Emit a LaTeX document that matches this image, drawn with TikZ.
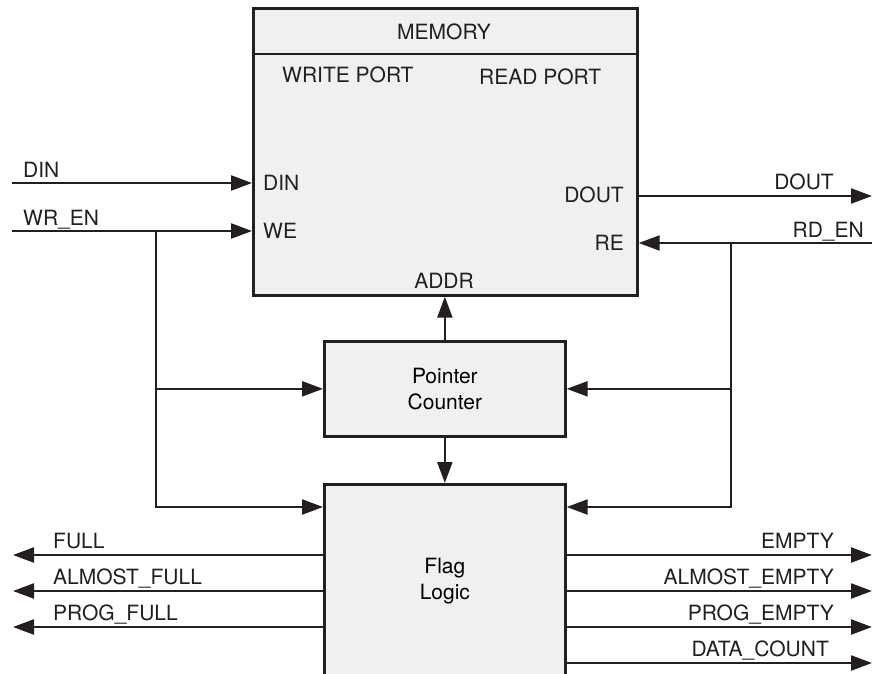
\documentclass[tikz,border=0pt]{standalone}
\usepackage{fontspec}
\setmainfont{TeX Gyre Heros}
\usepackage{xcolor}
\definecolor{pale-gray}{HTML}{F0F0F0}
\definecolor{ink}{HTML}{231F20}
\usepackage{tikz}
\usetikzlibrary{arrows.meta}
\tikzset{block/.style = {draw=ink, line width=2.7pt, fill=pale-gray, align=center, text centered, anchor=north west, inner sep=0pt}}
\tikzset{lbl/.style = {inner sep=0pt, text=ink}}
\tikzset{arr/.style = {draw=ink, line width=2.3pt, -{Triangle[length=21pt, width=15pt]}}}

\begin{document}
\begin{tikzpicture}[x=1pt, y=-1pt,
  font=\fontsize{21}{26}\selectfont
]
\useasboundingbox (0,0) rectangle (872,674);

\node[block, minimum width=384pt, minimum height=287pt] (mem) at (252,7) {};
\node[block, minimum width=241pt, minimum height=95pt] (ptr) at (323,340) {Pointer\\Counter};
% flag box runs off the bottom edge
\node[block, minimum width=241pt, minimum height=194pt] (flag) at (323,483) {Flag\\Logic};
\draw[ink, line width=2.3pt] ([yshift=-47pt]mem.north west) -- ([yshift=-47pt]mem.north east);

\node[lbl, anchor=base] (mem-title) at (444,40) {MEMORY};
\node[lbl, anchor=base west] (wr-port) at (282,83) {WRITE PORT};
\node[lbl, anchor=base west] (rd-port) at (479,85) {READ PORT};
\node[lbl, anchor=base west] (din-port) at (263,190) {DIN};
\node[lbl, anchor=base west] (we-port) at (263,238) {WE};
\node[lbl, anchor=base east] (dout-port) at (624,202) {DOUT};
\node[lbl, anchor=base east] (re-port) at (624,250) {RE};
\node[lbl, anchor=base] (addr-port) at (444,288) {ADDR};

\coordinate (din) at (12,183);
\coordinate (wr-en) at (12,231);
\coordinate (dout) at (872,196);
\coordinate (rd-en) at (872,243);
\coordinate (wr-split) at (156,231);
\coordinate (rd-split) at (731,243);
\coordinate (full) at (13,555);
\coordinate (afull) at (13,591);
\coordinate (pfull) at (13,627);
\coordinate (empty) at (872,555);
\coordinate (aempty) at (872,591);
\coordinate (pempty) at (872,627);
\coordinate (dcount) at (872,663);

\node[lbl, anchor=base west] (din-lbl) at (23,177) {DIN};
\node[lbl, anchor=base west] (wr-lbl) at (23,225) {WR\_EN};
\node[lbl, anchor=base east] (dout-lbl) at (834,189) {DOUT};
\node[lbl, anchor=base east] (rd-lbl) at (864,237) {RD\_EN};
\node[lbl, anchor=base west] (full-lbl) at (53,548) {FULL};
\node[lbl, anchor=base west] (afull-lbl) at (53,584) {ALMOST\_FULL};
\node[lbl, anchor=base west] (pfull-lbl) at (53,620) {PROG\_FULL};
\node[lbl, anchor=base east] (empty-lbl) at (834,548) {EMPTY};
\node[lbl, anchor=base east] (aempty-lbl) at (834,584) {ALMOST\_EMPTY};
\node[lbl, anchor=base east] (pempty-lbl) at (834,620) {PROG\_EMPTY};
\node[lbl, anchor=base east] (dcount-lbl) at (829,656) {DATA\_COUNT};

\draw[arr] (din) -- (din -| mem.west);
\draw[arr] (wr-en) -- (wr-en -| mem.west);
\draw[arr] (dout -| mem.east) -- (dout);
\draw[arr] (rd-en) -- (rd-en -| mem.east);
\draw[arr] (ptr.north) -- (ptr.north |- mem.south);
\draw[arr] (ptr.south) -- (flag.north);
\draw[arr] (wr-split) |- (ptr.west);
\draw[arr] (wr-split) |- ([yshift=-24pt]flag.north west);
\draw[arr] (rd-split) |- (ptr.east);
\draw[arr] (rd-split) |- ([yshift=-24pt]flag.north east);
\draw[arr] (full -| flag.west) -- (full);
\draw[arr] (afull -| flag.west) -- (afull);
\draw[arr] (pfull -| flag.west) -- (pfull);
\draw[arr] (empty -| flag.east) -- (empty);
\draw[arr] (aempty -| flag.east) -- (aempty);
\draw[arr] (pempty -| flag.east) -- (pempty);
\draw[arr] (dcount -| flag.east) -- (dcount);

\end{tikzpicture}
\end{document}
